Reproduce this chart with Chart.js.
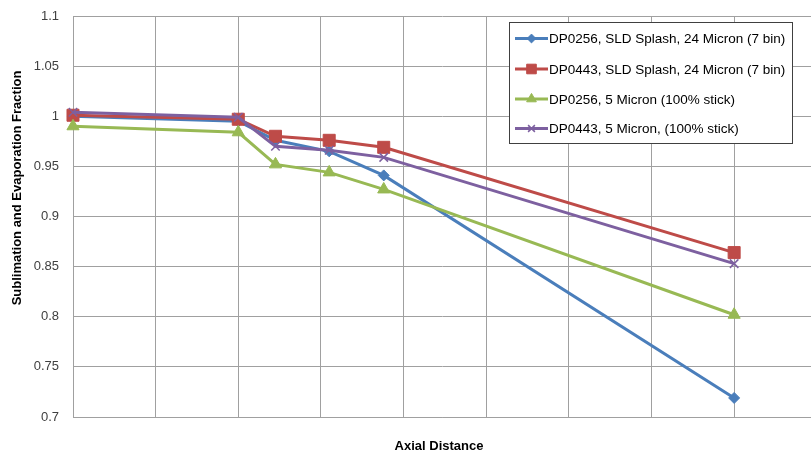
<!DOCTYPE html>
<html>
<head>
<meta charset="utf-8">
<script src="https://cdn.jsdelivr.net/npm/chart.js@4"></script>
<style>
  html, body { margin: 0; padding: 0; background: #fff; overflow: hidden; }
  #wrap { width: 811px; height: 455px; }
</style>
</head>
<body>
<div id="wrap"><canvas id="myChart" width="811" height="455"></canvas></div>
<script>
// axial positions (no labels on the axis, read from gridline units)
const axialPos = [0, 2, 2.45, 3.1, 3.76, 8];

const dp0256Splash = [1.000, 0.995, 0.976, 0.965, 0.941, 0.719];
const dp0443Splash = [1.001, 0.997, 0.980, 0.976, 0.969, 0.864];
const dp0256Stick  = [0.990, 0.984, 0.952, 0.944, 0.927, 0.802];
const dp0443Stick  = [1.004, 0.999, 0.970, 0.966, 0.959, 0.853];

const seriesNames = [
  'DP0256, SLD Splash, 24 Micron (7 bin)',
  'DP0443, SLD Splash, 24 Micron (7 bin)',
  'DP0256, 5 Micron (100% stick)',
  'DP0443, 5 Micron, (100% stick)'
];
const yTicks = [0.7, 0.75, 0.8, 0.85, 0.9, 0.95, 1, 1.05, 1.1];
const yTitle = 'Sublimation and Evaporation Fraction';
const xTitle = 'Axial Distance';

function pts(vals) {
  return vals.map((v, i) => ({ x: axialPos[i], y: v }));
}

const colors = ['#4A7EBB', '#BE4B48', '#98B954', '#7D60A0'];
const shapes = ['rectRot', 'rect', 'triangle', 'crossRot'];
const radii = [5.5, 8.5, 7, 6];
const allVals = [dp0256Splash, dp0443Splash, dp0256Stick, dp0443Stick];

const datasets = allVals.map((vals, k) => ({
  label: seriesNames[k],
  data: pts(vals),
  borderColor: colors[k],
  backgroundColor: colors[k],
  borderWidth: 3,
  pointStyle: shapes[k],
  pointRadius: radii[k],
  pointBorderWidth: k == 3 ? 1.5 : 1,
  pointBorderColor: colors[k],
  pointBackgroundColor: colors[k],
  tension: 0,
  clip: false,
  order: 4 - k // last series on top, like excel
}));

// legend box + axis titles, drawn on top like excel
const extras = {
  id: 'extras',
  afterDraw(chart) {
    const ctx = chart.ctx;
    ctx.save();
    // axis titles
    ctx.fillStyle = '#000';
    ctx.font = 'bold 13px "Liberation Sans", Arial, sans-serif';
    ctx.textAlign = 'center';
    ctx.textBaseline = 'middle';
    ctx.fillText(xTitle, 439, 446);
    ctx.translate(17, 188);
    ctx.rotate(-Math.PI / 2);
    ctx.fillText(yTitle, 0, 0);
    ctx.restore();

    // legend
    ctx.save();
    const bx = 509.5, by = 22.5, bw = 283, bh = 121;
    ctx.fillStyle = '#fff';
    ctx.fillRect(bx, by, bw, bh);
    ctx.strokeStyle = '#404040';
    ctx.lineWidth = 1;
    ctx.strokeRect(bx, by, bw, bh);
    ctx.font = '13.5px "Liberation Sans", Arial, sans-serif';
    ctx.textAlign = 'left';
    ctx.textBaseline = 'middle';
    const rowY = [38.5, 69, 99, 128.5];
    chart.data.datasets.forEach((ds, k) => {
      const y = rowY[k];
      ctx.strokeStyle = ds.borderColor;
      ctx.lineWidth = 3;
      ctx.beginPath();
      ctx.moveTo(515, y);
      ctx.lineTo(548, y);
      ctx.stroke();
      ctx.fillStyle = ds.backgroundColor;
      ctx.lineWidth = ds.pointBorderWidth;
      Chart.helpers.drawPoint(ctx, { pointStyle: ds.pointStyle, radius: ds.pointRadius * 0.8, borderWidth: ds.pointBorderWidth, rotation: 0 }, 531.5, y);
      ctx.fillStyle = '#000';
      ctx.fillText(ds.label, 549, y + 1);
    });
    ctx.restore();
  }
};

const config = {
  type: 'line',
  data: { datasets: datasets },
  options: {
    responsive: false,
    animation: false,
    layout: { autoPadding: false, padding: { left: 0, top: 16, right: 0, bottom: 0 } },
    plugins: {
      legend: { display: false },
      tooltip: { enabled: false }
    },
    scales: {
      x: {
        type: 'linear',
        min: 0,
        max: 8.93,
        ticks: { display: false, stepSize: 1 },
        grid: { color: '#A0A0A0', lineWidth: 1, drawTicks: false },
        border: { color: '#A0A0A0' },
        afterFit(scale) { scale.height = 38; }
      },
      y: {
        min: 0.7,
        max: 1.1,
        afterBuildTicks(scale) { scale.ticks = yTicks.map(v => ({ value: v })); },
        ticks: {
          color: '#404040',
          font: { family: '"Liberation Sans", Arial, sans-serif', size: 13 },
          padding: 14,
          callback: (v) => String(+v.toFixed(2))
        },
        grid: { color: '#A0A0A0', lineWidth: 1, drawTicks: false },
        border: { color: '#A0A0A0' },
        afterFit(scale) {
          scale.width = 73;
          // tick padding would otherwise push the plot top down
          scale.paddingTop = 0;
          scale.paddingBottom = 0;
        }
      }
    }
  },
  plugins: [extras]
};

const myChart = new Chart(document.getElementById('myChart'), config);
</script>
</body>
</html>
